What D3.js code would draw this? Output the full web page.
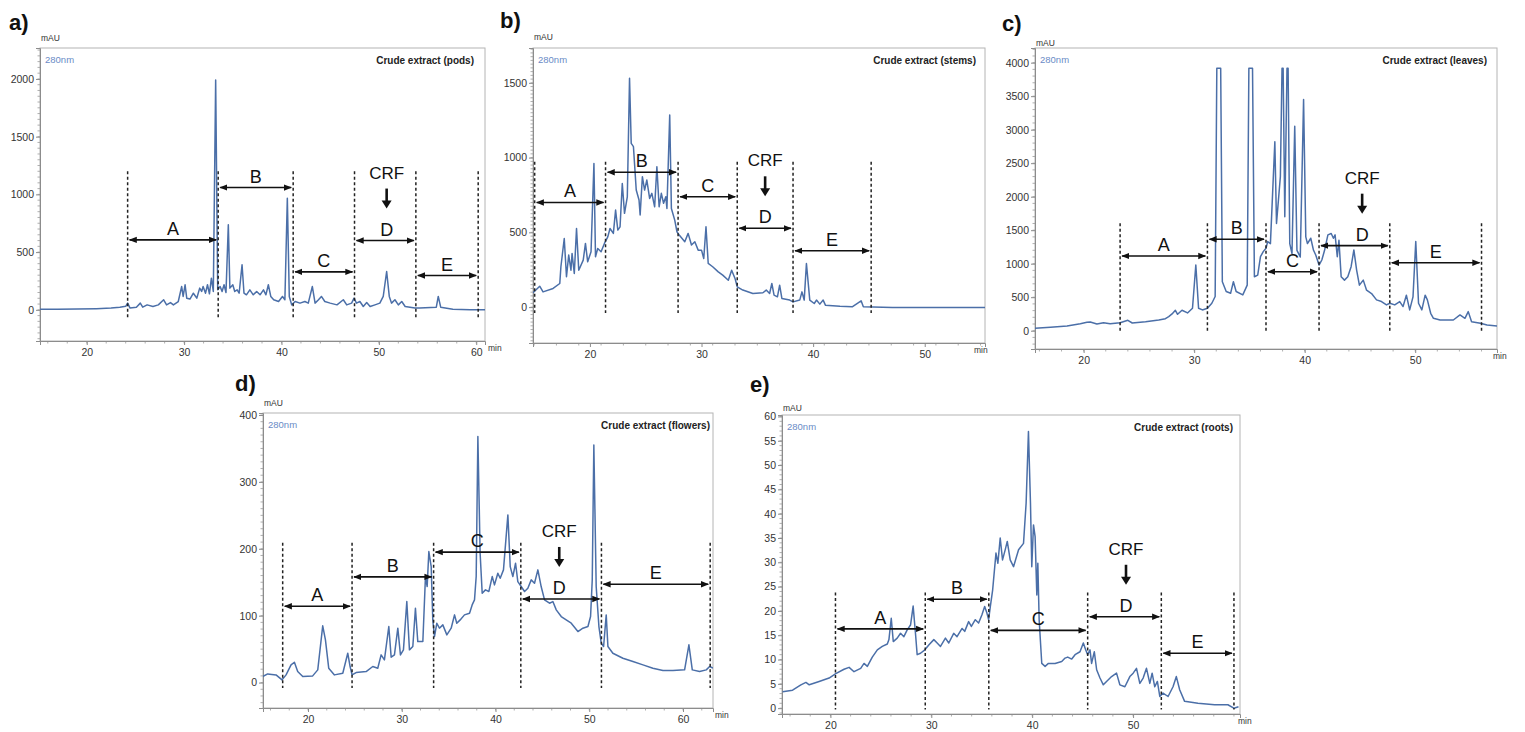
<!DOCTYPE html>
<html>
<head>
<meta charset="utf-8">
<script src="https://cdn.jsdelivr.net/npm/d3@7"></script>
<style>
  body { margin: 0; background: #fff; }
  svg { display: block; }
  text { font-family: "Liberation Sans", Arial, sans-serif; }
</style>
</head>
<body>
<svg id="chart" width="1525" height="732"></svg>
<script>
// ---- data: [retention time (min), absorbance (mAU)] ----
const fractionNames = ['A', 'B', 'C', 'D', 'E'];

const tracePods = [[15.2,5],[17,6],[19,7],[21,10],[22.5,15],[23.4,23],[24.0,30],[24.2,58],[24.45,15],[25.1,23],[25.5,58],[25.75,23],[26.2,43],[26.8,29],[27.35,43],[27.9,87],[28.2,43],[28.6,63],[28.9,43],[29.4,72],[29.75,202],[29.9,116],[30.1,217],[30.27,101],[30.6,93],[30.95,144],[31.3,101],[31.6,188],[31.8,159],[31.95,202],[32.2,144],[32.4,217],[32.6,139],[32.8,274],[33.0,159],[33.24,1991],[33.45,173],[33.7,202],[33.9,159],[34.1,217],[34.3,150],[34.54,736],[34.7,188],[35.0,217],[35.2,159],[35.45,173],[35.65,144],[35.95,390],[36.15,144],[36.4,130],[36.75,173],[37.1,130],[37.45,159],[37.8,130],[38.15,173],[38.4,130],[38.65,217],[38.9,116],[39.2,87],[39.7,72],[40.1,116],[40.35,87],[40.6,967],[40.8,116],[41.05,43],[41.4,72],[41.9,58],[42.4,72],[42.75,58],[43.17,202],[43.45,58],[43.8,87],[44.1,116],[44.45,72],[45.0,58],[45.7,43],[46.35,87],[46.7,43],[47.2,58],[47.45,101],[47.7,58],[48.05,72],[48.4,29],[48.75,63],[49.1,29],[49.6,43],[50.1,58],[50.45,116],[50.8,332],[51.07,116],[51.3,58],[51.65,87],[52.0,43],[52.35,72],[52.7,29],[53.2,23],[53.7,15],[54.2,15],[55.9,23],[56.1,116],[56.35,23],[57.6,6],[59.4,0],[60.9,0]];
const boundsPods = [24.2, 33.5, 41.2, 47.5, 53.8, 60.2];
const arrowsPods = [606, 1059, 329, 600, 297];
const crfPods = 50.8;

const traceStems = [[14.9,96],[15.5,140],[15.8,102],[16.7,125],[17.3,158],[17.4,270],[17.7,459],[17.9,203],[18.1,348],[18.3,247],[18.4,359],[18.6,225],[18.8,526],[19.0,247],[19.4,314],[19.6,426],[19.8,303],[20.1,370],[20.36,961],[20.5,337],[20.7,392],[21.0,370],[21.3,426],[21.6,470],[21.8,526],[22.1,493],[22.3,649],[22.5,515],[22.7,537],[22.9,827],[23.1,627],[23.35,738],[23.55,1530],[23.7,1095],[23.9,1073],[24.15,783],[24.4,716],[24.5,616],[24.7,872],[24.9,783],[25.1,850],[25.35,727],[25.55,761],[25.8,671],[26.0,939],[26.2,671],[26.4,761],[26.6,694],[26.8,738],[26.9,660],[27.15,1285],[27.3,660],[27.6,582],[27.8,504],[28.0,482],[28.5,437],[28.8,493],[29.1,415],[29.4,437],[29.7,381],[30.0,381],[30.2,325],[30.4,537],[30.6,292],[31.0,270],[31.5,236],[31.9,214],[32.4,180],[32.7,247],[33.0,192],[33.2,136],[33.7,114],[34.6,91],[35.5,96],[35.8,114],[36.1,91],[36.3,158],[36.5,80],[36.8,69],[37.0,147],[37.2,58],[37.9,47],[38.2,35],[38.8,47],[39.0,102],[39.2,47],[39.4,292],[39.7,47],[40.1,24],[40.3,47],[40.6,20],[40.9,47],[41.1,13],[42.4,6],[43.5,2],[44.3,42],[44.5,2],[47.1,-2],[55.4,-2]];
const boundsStems = [15.05, 21.4, 27.9, 33.2, 38.2, 45.2];
const arrowsStems = [700, 902, 738, 527, 377];
const crfStems = 35.7;

const traceLeaves = [[15.6,35],[17.0,50],[18.5,70],[19.7,105],[20.3,125],[20.6,130],[21.2,100],[21.8,120],[22.4,105],[23.3,120],[24.0,155],[24.4,115],[25.6,135],[26.8,160],[27.4,180],[27.7,210],[28.0,250],[28.3,305],[28.5,245],[28.9,305],[29.4,265],[29.85,335],[30.15,980],[30.4,335],[30.75,310],[31.2,335],[31.6,410],[31.9,510],[32.05,3916],[32.4,3916],[32.55,730],[32.9,585],[33.3,560],[33.55,730],[33.8,585],[34.4,535],[34.8,680],[34.95,3916],[35.28,3916],[35.45,805],[35.75,830],[36.0,1105],[36.25,1180],[36.5,1230],[36.65,1330],[36.9,1300],[37.3,2820],[37.45,1600],[37.65,2000],[37.8,2300],[37.95,3916],[38.05,3916],[38.2,1700],[38.4,3916],[38.5,3916],[38.65,1300],[38.85,1150],[39.1,3050],[39.3,1200],[39.6,1100],[39.9,3450],[40.1,1400],[40.25,1300],[40.55,1380],[40.8,1200],[41.0,1130],[41.3,980],[41.55,1055],[41.8,1200],[42.1,1430],[42.4,1450],[42.6,1380],[42.75,1430],[42.95,1105],[43.1,1350],[43.3,805],[43.6,755],[43.9,805],[44.2,955],[44.45,1205],[44.7,905],[44.95,680],[45.3,755],[45.6,605],[46.05,555],[46.5,460],[46.95,435],[47.4,385],[47.7,410],[48.15,385],[48.6,435],[48.9,360],[49.2,530],[49.5,310],[49.8,505],[50.05,1330],[50.3,410],[50.6,310],[50.9,530],[51.1,460],[51.4,260],[51.65,185],[52.25,160],[53.45,160],[54.05,235],[54.5,185],[54.8,285],[55.1,135],[55.9,110],[56.5,85],[57.4,70]];
const boundsLeaves = [23.3, 31.2, 36.5, 41.3, 47.7, 56.0];
const arrowsLeaves = [1115, 1364, 880, 1269, 1015];
const crfLeaves = 45.2;

const traceFlowers = [[15.17,9],[15.7,13],[16.59,11.5],[17.23,4],[17.66,11.5],[18.19,26.5],[18.55,30.4],[18.9,16.5],[19.44,9],[20.5,10],[21.04,19],[21.57,84.8],[21.86,63.8],[22.21,21.5],[22.82,11.5],[23.71,14],[24.24,43.9],[24.49,24],[24.7,11.5],[25.13,15],[26.2,16.5],[26.91,24],[27.44,21.5],[27.8,41.4],[28.15,33.9],[28.62,83.8],[28.87,37.9],[29.22,41.4],[29.58,81.3],[29.86,41.4],[30.18,48.9],[30.54,121.1],[30.82,48.9],[31.18,53.9],[31.46,111.2],[31.71,61.3],[32.25,61.3],[32.53,158.5],[32.71,143.6],[32.89,195.9],[33.14,173.4],[33.31,93.7],[33.49,68.8],[33.74,88.7],[34.02,81.3],[34.38,86.3],[34.81,71.3],[35.27,81.3],[35.63,101.2],[35.87,88.7],[36.23,93.7],[36.69,101.2],[37.23,103.7],[37.51,116.1],[37.76,123.6],[37.94,158.5],[38.12,367.8],[38.36,193.4],[38.58,133.6],[38.93,138.6],[39.29,136.1],[39.65,158.5],[39.89,146],[40.25,163.5],[40.5,156],[40.85,168.5],[41.32,250.7],[41.57,173.4],[41.85,158.5],[42.14,178.4],[42.38,151],[42.74,143.6],[43.1,136.1],[43.45,141.1],[43.81,153.5],[44.16,148.5],[44.52,168.5],[44.87,143.6],[45.23,123.6],[45.76,118.6],[46.12,121.1],[46.48,108.7],[47.01,98.7],[47.54,93.7],[48.08,88.7],[48.79,76.3],[49.32,81.3],[49.86,83.8],[50.14,98.7],[50.32,153.5],[50.49,355.3],[50.74,143.6],[51.03,83.8],[51.28,58.8],[51.53,53.9],[51.81,101.2],[51.99,53.9],[52.52,43.9],[53.59,36.4],[54.66,31.4],[55.73,26.5],[56.79,21.5],[57.86,18],[58.93,18],[60.17,19],[60.63,56.4],[60.99,19],[61.77,16.5],[62.48,19],[62.84,24],[63.2,21.5]];
const boundsFlowers = [17.3, 24.7, 33.4, 42.7, 51.3, 62.9];
const arrowsFlowers = [114, 158, 195, 125, 147];
const crfFlowers = 46.8;

const traceRoots = [[15.26,3.4],[16.25,3.7],[17.07,4.8],[17.57,5.3],[17.9,4.8],[18.88,5.5],[19.87,6.2],[20.53,7.1],[21.35,8.0],[21.85,8.4],[22.34,7.5],[23.0,8.2],[23.33,9.2],[23.66,8.6],[24.15,10.5],[24.65,12.0],[25.14,12.7],[25.64,13.2],[25.8,14.1],[26.03,18.5],[26.23,13.7],[26.62,14.4],[26.95,15.4],[27.28,14.7],[27.61,16.1],[27.94,17.1],[28.2,21.0],[28.43,15.4],[28.6,11.0],[28.93,11.3],[29.36,12.0],[29.75,13.0],[30.25,14.1],[30.58,13.4],[30.91,12.7],[31.4,14.4],[31.73,13.4],[32.22,15.4],[32.55,14.7],[33.05,16.4],[33.31,15.8],[33.7,17.8],[33.97,16.8],[34.36,18.2],[34.69,17.5],[35.02,19.2],[35.29,20.9],[35.52,19.5],[35.68,18.2],[35.85,20.9],[36.08,24.3],[36.41,31.9],[36.6,29.8],[36.83,35.0],[37.06,30.5],[37.33,32.6],[37.53,34.3],[37.82,30.5],[38.15,29.1],[38.65,32.6],[39.14,33.9],[39.4,42.2],[39.63,56.9],[39.83,42.2],[39.96,29.1],[40.13,37.7],[40.29,35.3],[40.46,23.3],[40.56,29.8],[40.69,18.2],[40.95,9.2],[41.28,8.6],[41.61,9.2],[42.27,9.2],[42.93,9.6],[43.26,10.3],[43.52,10.5],[43.92,10.1],[44.25,11.0],[44.74,11.6],[45.07,13.4],[45.3,12.0],[45.5,11.0],[45.73,12.0],[45.89,9.2],[46.16,11.6],[46.39,7.9],[46.72,6.2],[47.05,4.8],[47.37,5.5],[47.87,6.5],[48.36,7.2],[48.69,4.8],[49.19,4.4],[49.68,6.5],[50.01,7.2],[50.34,8.2],[50.67,5.1],[51.0,6.2],[51.33,8.2],[51.66,5.1],[51.89,7.2],[52.15,4.4],[52.41,5.5],[52.65,2.4],[52.97,3.1],[53.47,2.4],[53.96,4.4],[54.29,6.5],[54.62,3.8],[55.11,1.4],[56.43,1.0],[58.08,0.7],[59.4,0.7],[59.99,0],[60.45,0.3]];
const boundsRoots = [20.5, 29.4, 35.7, 45.5, 52.8, 60.0];
const arrowsRoots = [16.3, 22.4, 16, 18.8, 11.3];
const crfRoots = 49.3;

// axis tick labels
const yTicksPods = [0, 500, 1000, 1500, 2000];
const yTicksStems = [0, 500, 1000, 1500];
const yTicksLeaves = [0, 500, 1000, 1500, 2000, 2500, 3000, 3500, 4000];
const yTicksFlowers = [0, 100, 200, 300, 400];
const yTicksRoots = [0, 5, 10, 15, 20, 25, 30, 35, 40, 45, 50, 55, 60];
const xTicksPods = [20, 30, 40, 50, 60];
const xTicksStems = [20, 30, 40, 50];
const xTicksLeaves = [20, 30, 40, 50];
const xTicksFlowers = [20, 30, 40, 50, 60];
const xTicksRoots = [20, 30, 40, 50];

// ---- layout ----
const panels = [
  {tag: 'a)', title: 'Crude extract (pods)', trace: tracePods, bounds: boundsPods, arrows: arrowsPods, crf: crfPods,
   yTicks: yTicksPods, xTicks: xTicksPods, box: [40, 48, 485, 341], xDomain: [15.2, 60.9], yDomain: [-270, 2268],
   yMinor: 50, dash: [-80, 1200], tagPos: [9, 30], unitDy: -7, titleDx: -11, minDx: 3},
  {tag: 'b)', title: 'Crude extract (stems)', trace: traceStems, bounds: boundsStems, arrows: arrowsStems, crf: crfStems,
   yTicks: yTicksStems, xTicks: xTicksStems, box: [533, 48, 985, 343], xDomain: [14.9, 55.4], yDomain: [-240, 1733],
   yMinor: 25, dash: [-40, 972], tagPos: [500, 28], unitDy: -8, titleDx: -9, minDx: -11},
  {tag: 'c)', title: 'Crude extract (leaves)', trace: traceLeaves, bounds: boundsLeaves, arrows: arrowsLeaves, crf: crfLeaves,
   yTicks: yTicksLeaves, xTicks: xTicksLeaves, box: [1035, 48, 1497, 349], xDomain: [15.6, 57.4], yDomain: [-273, 4219],
   yMinor: 100, dash: [-30, 1603], tagPos: [1002, 31], unitDy: -2, titleDx: -10, minDx: -4},
  {tag: 'd)', title: 'Crude extract (flowers)', trace: traceFlowers, bounds: boundsFlowers, arrows: arrowsFlowers, crf: crfFlowers,
   yTicks: yTicksFlowers, xTicks: xTicksFlowers, box: [263, 413, 713, 708], xDomain: [15.2, 63.2], yDomain: [-38, 403],
   yMinor: 10, dash: [-8, 209], tagPos: [235, 391], unitDy: -7, titleDx: -3, minDx: 2},
  {tag: 'e)', title: 'Crude extract (roots)', trace: traceRoots, bounds: boundsRoots, arrows: arrowsRoots, crf: crfRoots,
   yTicks: yTicksRoots, xTicks: xTicksRoots, box: [782, 415, 1240, 714], xDomain: [15.2, 60.6], yDomain: [-1.2, 60.3],
   yMinor: 1, dash: [-0.3, 23.8], tagPos: [750, 392], unitDy: -4, titleDx: -7, minDx: -2}
];

const svg = d3.select('#chart');
const defs = svg.append('defs');
defs.append('marker')
    .attr('id', 'head')
    .attr('viewBox', '0 0 10 10')
    .attr('refX', 9).attr('refY', 5)
    .attr('markerUnits', 'userSpaceOnUse')
    .attr('markerWidth', 8).attr('markerHeight', 8)
    .attr('orient', 'auto-start-reverse')
  .append('path')
    .attr('d', 'M0,1L10,5L0,9z')
    .attr('fill', '#111');

const lineColor = '#4b6fa8';

function drawPanel(p, idx) {
    let [x0, y0, x1, y1] = p.box;
    let x = d3.scaleLinear().domain(p.xDomain).range([x0, x1]);
    let y = d3.scaleLinear().domain(p.yDomain).range([y1, y0]);
    let g = svg.append('g');

    defs.append('clipPath').attr('id', 'clip' + idx)
      .append('rect').attr('x', x0).attr('y', y0).attr('width', x1 - x0).attr('height', y1 - y0);

    // frame
    g.append('rect')
        .attr('x', x0).attr('y', y0)
        .attr('width', x1 - x0).attr('height', y1 - y0)
        .attr('fill', 'none')
        .attr('stroke', '#b4b4b4');

    // minor ticks
    let yMinor = d3.range(Math.ceil(p.yDomain[0] / p.yMinor) * p.yMinor, p.yDomain[1], p.yMinor);
    g.append('g').selectAll('line').data(yMinor).enter().append('line')
        .attr('x1', x0 - 2.5).attr('x2', x0)
        .attr('y1', d => y(d)).attr('y2', d => y(d))
        .attr('stroke', '#9a9a9a').attr('stroke-width', 0.8);
    let xMinor = d3.range(Math.ceil(p.xDomain[0]), p.xDomain[1], 2);
    g.append('g').selectAll('line').data(xMinor).enter().append('line')
        .attr('x1', d => x(d)).attr('x2', d => x(d))
        .attr('y1', y1).attr('y2', y1 + 2.5)
        .attr('stroke', '#9a9a9a').attr('stroke-width', 0.8);

    let yAxis = g.append('g')
        .attr('transform', `translate(${x0},0)`)
        .call(d3.axisLeft(y).tickValues(p.yTicks).tickSize(4).tickPadding(2).tickFormat(d3.format('d')));
    let xAxis = g.append('g')
        .attr('transform', `translate(0,${y1})`)
        .call(d3.axisBottom(x).tickValues(p.xTicks).tickSize(4).tickPadding(4).tickFormat(d3.format('d')));
    [yAxis, xAxis].forEach(a => {
        a.select('.domain').attr('stroke', '#8c8c8c');
        a.selectAll('.tick line').attr('stroke', '#8c8c8c');
        a.selectAll('.tick text').attr('fill', '#333')
            .style('font-size', '10.5px')
            .style('font-family', '"Liberation Sans", Arial, sans-serif');
    });

    // texts around the frame
    g.append('text').attr('x', p.tagPos[0]).attr('y', p.tagPos[1])
        .style('font-size', '22px').style('font-weight', 'bold').attr('fill', '#111')
        .text(p.tag);
    g.append('text').attr('x', x0 + 1).attr('y', y0 + p.unitDy)
        .style('font-size', '8.5px').attr('fill', '#333').text('mAU');
    g.append('text').attr('x', x1 + p.minDx).attr('y', y1 + 10)
        .style('font-size', '8.5px').attr('fill', '#333').text('min');
    g.append('text').attr('x', x0 + 5).attr('y', y0 + 15)
        .style('font-size', '9.5px').attr('fill', '#6a8cc6').text('280nm');
    g.append('text').attr('x', x1 + p.titleDx).attr('y', y0 + 16)
        .attr('text-anchor', 'end')
        .style('font-size', '10px').style('font-weight', 'bold').attr('fill', '#222')
        .text(p.title);

    // chromatogram trace
    let line = d3.line().x(d => x(d[0])).y(d => y(d[1]));
    g.append('path')
        .datum(p.trace)
        .attr('clip-path', `url(#clip${idx})`)
        .attr('d', line)
        .attr('fill', 'none')
        .attr('stroke', lineColor)
        .attr('stroke-width', 1.5)
        .attr('stroke-linejoin', 'round');

    // fraction boundaries
    g.append('g').selectAll('line').data(p.bounds).enter().append('line')
        .attr('x1', d => x(d)).attr('x2', d => x(d))
        .attr('y1', y(p.dash[1])).attr('y2', y(p.dash[0]))
        .attr('stroke', '#222')
        .attr('stroke-width', 1.5)
        .attr('stroke-dasharray', '3,2.5');

    // fraction arrows + letters
    let spans = fractionNames.map((n, i) => ({name: n, a: p.bounds[i], b: p.bounds[i + 1], level: p.arrows[i]}));
    g.append('g').selectAll('line').data(spans).enter().append('line')
        .attr('x1', d => x(d.a) + 2).attr('x2', d => x(d.b) - 2)
        .attr('y1', d => y(d.level)).attr('y2', d => y(d.level))
        .attr('stroke', '#111').attr('stroke-width', 1.6)
        .attr('marker-start', 'url(#head)')
        .attr('marker-end', 'url(#head)');
    g.append('g').selectAll('text').data(spans).enter().append('text')
        .attr('x', d => d.name === 'D' ? x(p.crf) : x((d.a + d.b) / 2))
        .attr('y', d => y(d.level) - 5)
        .attr('text-anchor', 'middle')
        .style('font-size', '18px').attr('fill', '#111')
        .text(d => d.name);

    // CRF pointer
    let dY = y(p.arrows[3]);
    let cx = x(p.crf);
    g.append('text').attr('x', cx).attr('y', dY - 62)
        .attr('text-anchor', 'middle')
        .style('font-size', '17px').attr('fill', '#111')
        .text('CRF');
    g.append('line').attr('x1', cx).attr('x2', cx)
        .attr('y1', dY - 52).attr('y2', dY - 39)
        .attr('stroke', '#111').attr('stroke-width', 2.6);
    g.append('path')
        .attr('d', `M${cx - 5},${dY - 40}L${cx + 5},${dY - 40}L${cx},${dY - 32}Z`)
        .attr('fill', '#111');
}

panels.forEach(drawPanel);
</script>
</body>
</html>
